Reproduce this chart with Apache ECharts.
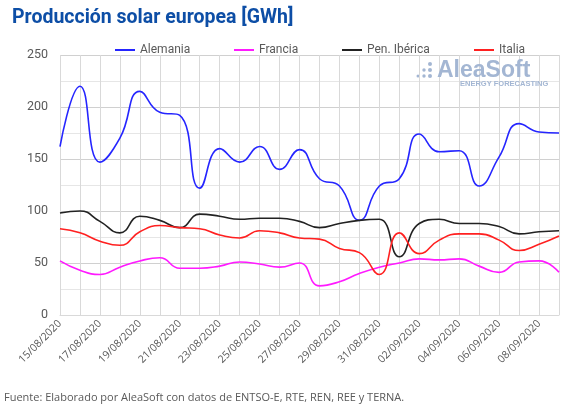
<!DOCTYPE html>
<html><head><meta charset="utf-8">
<script src="https://cdn.jsdelivr.net/npm/echarts@6/dist/echarts.min.js"></script>
<style>html,body{margin:0;padding:0;background:#fff}#c{width:573px;height:406px}</style>
</head><body><div id="c"></div>
<script>
const dates = ['15/08/2020','16/08/2020','17/08/2020','18/08/2020','19/08/2020','20/08/2020','21/08/2020','22/08/2020','23/08/2020','24/08/2020','25/08/2020','26/08/2020','27/08/2020','28/08/2020','29/08/2020','30/08/2020','31/08/2020','01/09/2020','02/09/2020','03/09/2020','04/09/2020','05/09/2020','06/09/2020','07/09/2020','08/09/2020','09/09/2020'];
const alemania = [162,220,147,170,215,195,192,122,160,147,162,140,159,131,124,91,124,131,174,157,158,124,152,184,176,175];
const francia = [52,43,39,46,52,55,45,45,47,51,49,46,50,28,32,40,46,50,54,53,54,47,41,51,52,41];
const penIberica = [98,100,90,79,95,91,84,97,95,92,93,93,90,84,88,91,92,56,88,92,88,88,85,78,80,81];
const italia = [83,79,71,67,80,86,84,83,77,74,81,79,74,73,64,60,39,79,59,72,78,78,72,62,68,76];
const yTicks = {min:0, max:250, step:50};

const chart = echarts.init(document.getElementById('c'));
const grey = '#595959';
function leg(name, left){
  return {data:[name], left:left, top:39, icon:'rect', itemWidth:20, itemHeight:2,
    textStyle:{color:grey, fontSize:12, fontFamily:'Roboto'}, selectedMode:false};
}
function ser(name, data, color){
  return {name:name, type:'line', data:data, smooth:0.5, symbol:'none',
    lineStyle:{width:1.6, color:color}, itemStyle:{color:color}};
}
chart.setOption({
  animation:false,
  title:{text:'Producción solar europea [GWh]', left:7, top:3,
    textStyle:{color:'#0d4ea6', fontSize:19.5, fontWeight:'bold', fontFamily:'Roboto'}},
  legend:[leg('Alemania',110), leg('Francia',229), leg('Pen. Ibérica',337), leg('Italia',469)],
  grid:{left:60, right:14, top:55, bottom:91, containLabel:false},
  xAxis:{type:'category', data:dates, boundaryGap:false,
    axisLine:{show:true, lineStyle:{color:'#d9d9d9'}}, axisTick:{show:false},
    axisLabel:{interval:1, rotate:45, color:grey, fontSize:10.5, fontFamily:'Open Sans', margin:7},
    splitLine:{show:true, interval:0, lineStyle:{color:'#d9d9d9', width:1}}},
  yAxis:{type:'value', min:yTicks.min, max:yTicks.max, interval:yTicks.step,
    axisLine:{show:false}, axisTick:{show:false},
    axisLabel:{color:grey, fontSize:12.5, fontFamily:'Roboto', margin:12},
    splitLine:{lineStyle:{color:'#d0d0d0'}},
    minorTick:{show:false, splitNumber:2},
    minorSplitLine:{show:true, lineStyle:{color:'#e6e6e6'}}},
  graphic:[
    {type:'text', left:437, top:59, style:{text:'AleaSoft', fill:'#a3b6d3', font:'bold 23px Liberation Sans'}, z:1},
    {type:'text', left:460, top:80, style:{text:'ENERGY FORECASTING', fill:'#a3b6d3', font:'bold 7.5px Liberation Sans'}, z:1},
    {type:'circle', shape:{cx:430,cy:64,r:2}, style:{fill:'#a3b6d3'}},
    {type:'circle', shape:{cx:430,cy:70,r:2}, style:{fill:'#a3b6d3'}},
    {type:'circle', shape:{cx:430,cy:76,r:2}, style:{fill:'#a3b6d3'}},
    {type:'circle', shape:{cx:424,cy:70,r:1.7}, style:{fill:'#a3b6d3'}},
    {type:'circle', shape:{cx:424,cy:76,r:1.7}, style:{fill:'#a3b6d3'}},
    {type:'circle', shape:{cx:418,cy:76,r:1.5}, style:{fill:'#a3b6d3'}},
    {type:'text', left:4, top:392, style:{text:'Fuente: Elaborado por AleaSoft con datos de ENTSO-E, RTE, REN, REE y TERNA.', fill:grey, font:'11px Open Sans'}}
  ],
  series:[
    ser('Alemania', alemania, '#2525ff'),
    ser('Francia', francia, '#ff1aff'),
    ser('Pen. Ibérica', penIberica, '#222222'),
    ser('Italia', italia, '#ff2020')
  ]
});
</script></body></html>
